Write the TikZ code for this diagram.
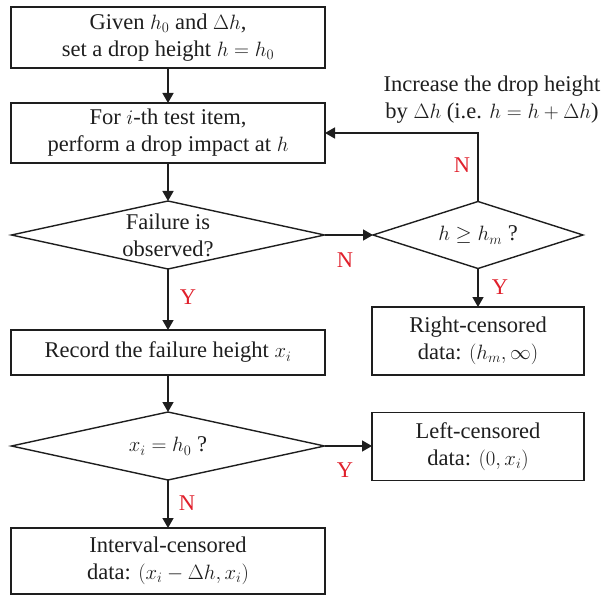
\documentclass[tikz,border=0pt]{standalone}
\usepackage{fontspec}
\setmainfont{Liberation Serif}
\usetikzlibrary{shapes.geometric,arrows.meta}
\definecolor{ink}{HTML}{1E1E1E}
\definecolor{lab}{HTML}{E0202C}
\begin{document}
\begin{tikzpicture}[x=1pt,y=-1pt,
  every node/.style={font=\fontsize{22.5}{27}\selectfont, text=ink, align=center},
  box/.style={draw=ink, line width=1.4pt, rectangle, inner sep=0pt, outer sep=0pt},
  diam/.style={draw=ink, line width=1.4pt, diamond, inner sep=0pt, outer sep=0pt},
  arr/.style={draw=ink, line width=1.4pt, -{Triangle[length=10pt,width=11pt]}},
  lbl/.style={text=lab}]
\useasboundingbox (0,0) rectangle (602,596);
% main column
\node[box, minimum width=314pt, minimum height=61pt] (b1) at (168,37.5) {Given $h_0$ and $\Delta h$,\\ set a drop height $h=h_0$};
\node[box, minimum width=314pt, minimum height=60pt] (b2) at (168,133) {For $i$-th test item,\\ perform a drop impact at $h$};
\node[diam, minimum width=313pt, minimum height=68pt] (d1) at (168,235) {};
\node (t1) at (d1.center) {Failure is\\ observed?};
\node[box, minimum width=314pt, minimum height=45pt] (b3) at (168,352.5) {Record the failure height $x_i$};
\node[diam, minimum width=313pt, minimum height=68pt] (d2) at (168,446) {};
\node (t2) at (d2.center) {$x_i=h_0$ ?};
\node[box, minimum width=314pt, minimum height=66pt] (b4) at (168,561) {Interval-censored\\ data: $(x_i-\Delta h, x_i)$};
% right column
\node[diam, minimum width=210pt, minimum height=67pt] (d3) at (478,235) {};
\node (t3) at (d3.center) {$h\geq h_m$ ?};
\node[box, minimum width=212pt, minimum height=68pt] (b5) at (478,341) {Right-censored\\ data: $(h_m,\infty)$};
\node[box, minimum width=212pt, minimum height=68pt] (b6) at (478,446.5) {Left-censored\\ data: $(0,x_i)$};
\node (inc) at (492,100) {Increase the drop height\\ by $\Delta h$ (i.e. $h=h+\Delta h$)};
\coordinate (fb) at (478,133);
% connectors
\draw[arr] (b1.south) -- (b2.north);
\draw[arr] (b2.south) -- (d1.north);
\draw[arr] (d1.south) -- (b3.north);
\draw[arr] (b3.south) -- (d2.north);
\draw[arr] (d2.south) -- (b4.north);
\draw[arr] (d1.east) -- (d3.west);
\draw[arr] (d3.south) -- (b5.north);
\draw[arr] (d2.east) -- (d2.east -| b6.west);
\draw[arr] (d3.north) -- (fb) -- (b2.east);
% labels
\node[lbl] (y1) at (188,297) {Y};
\node[lbl] (n1) at (345,260) {N};
\node[lbl] (n2) at (462,165) {N};
\node[lbl] (y2) at (500,287) {Y};
\node[lbl] (y3) at (345,470) {Y};
\node[lbl] (n3) at (187,503) {N};
\end{tikzpicture}
\end{document}
